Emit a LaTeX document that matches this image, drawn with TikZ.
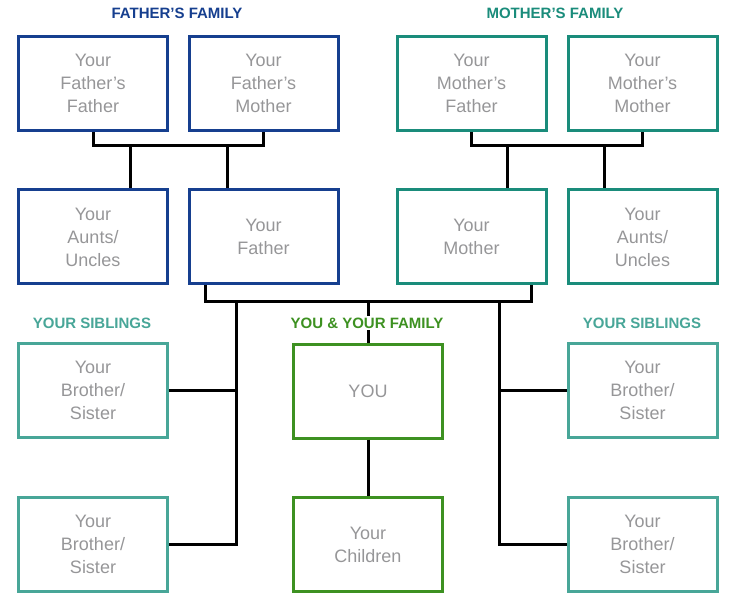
\documentclass[tikz,border=0pt]{standalone}
\usepackage{fontspec}
\setmainfont{Liberation Sans}
\usepackage{tikz}
\usetikzlibrary{positioning}
\definecolor{fblue}{RGB}{22,63,143}
\definecolor{mteal}{RGB}{26,140,123}
\definecolor{sibteal}{RGB}{72,166,152}
\definecolor{yougreen}{RGB}{61,145,33}
\definecolor{txtgray}{RGB}{150,150,152}

\begin{document}
\begin{tikzpicture}[x=1pt,y=-1pt,
        box/.style={draw=#1, line width=3pt, minimum width=149pt, minimum height=94pt,
            align=center, text=txtgray, font=\fontsize{18}{23}\selectfont},
        link/.style={line width=3pt, black},
        title/.style={font=\fontsize{15}{17}\selectfont\bfseries, fill=white, inner sep=2pt}]
        \useasboundingbox (0,0) rectangle (740,607);
        % father's side
        \node[box=fblue] (ff)  at (93,83.5)    {Your\\Father’s\\Father};
        \node[box=fblue] (fm)  at (263.5,83.5) {Your\\Father’s\\Mother};
        \node[box=fblue] (au1) at (93,237)     {Your\\Aunts/\\Uncles};
        \node[box=fblue] (fa)  at (263.5,237)  {Your\\Father};
        % mother's side
        \node[box=mteal] (mf)  at (471.5,83.5) {Your\\Mother’s\\Father};
        \node[box=mteal] (mm)  at (642.5,83.5) {Your\\Mother’s\\Mother};
        \node[box=mteal] (mo)  at (471.5,237)  {Your\\Mother};
        \node[box=mteal] (au2) at (642.5,237)  {Your\\Aunts/\\Uncles};
        % you
        \node[box=yougreen] (you) at (368,391)   {YOU};
        \node[box=yougreen] (ch)  at (368,544.5) {Your\\Children};
        % siblings
        \foreach \x/\n in {93/l, 642.5/r}{
            \node[box=sibteal] (s\n1) at (\x,390.5) {Your\\Brother/\\Sister};
            \node[box=sibteal] (s\n2) at (\x,544.5) {Your\\Brother/\\Sister};
        }
        % connectors
        \coordinate (fbar) at (0,146);
        \coordinate (pbar) at (0,302);
        \draw[link] (ff.south) |- (fbar -| fm.south) -- (fm.south);
        \draw[link] (mf.south) |- (fbar -| mm.south) -- (mm.south);
        \draw[link] ([xshift=37pt]au1.north |- fbar) -- ([xshift=37pt]au1.north);
        \draw[link] ([xshift=-36.5pt]fa.north |- fbar) -- ([xshift=-36.5pt]fa.north);
        \draw[link] ([xshift=35.5pt]mo.north |- fbar) -- ([xshift=35.5pt]mo.north);
        \draw[link] ([xshift=-38.5pt]au2.north |- fbar) -- ([xshift=-38.5pt]au2.north);
        \draw[link] ([xshift=-58.5pt]fa.south) |- ([xshift=59.5pt]mo.south |- pbar) -- ([xshift=59.5pt]mo.south);
        \coordinate (lsib) at (236,302);
        \coordinate (rsib) at (499,302);
        \draw[link] (lsib) |- (sl2.east);
        \draw[link] (lsib |- sl1.east) -- (sl1.east);
        \draw[link] (rsib) |- (sr2.west);
        \draw[link] (rsib |- sr1.west) -- (sr1.west);
        \draw[link] (you.north |- pbar) -- (you.north);
        \draw[link] (you) -- (ch);
        % titles
        \node[title, text=fblue]    (tf) at (177,13)  {FATHER’S FAMILY};
        \node[title, text=mteal]    (tm) at (555,13)  {MOTHER’S FAMILY};
        \node[title, text=sibteal]  (tl) at (92,323)  {YOUR SIBLINGS};
        \node[title, text=yougreen] (ty) at (367,323) {YOU \& YOUR FAMILY};
        \node[title, text=sibteal]  (tr) at (642,323) {YOUR SIBLINGS};
    \end{tikzpicture}
\end{document}
